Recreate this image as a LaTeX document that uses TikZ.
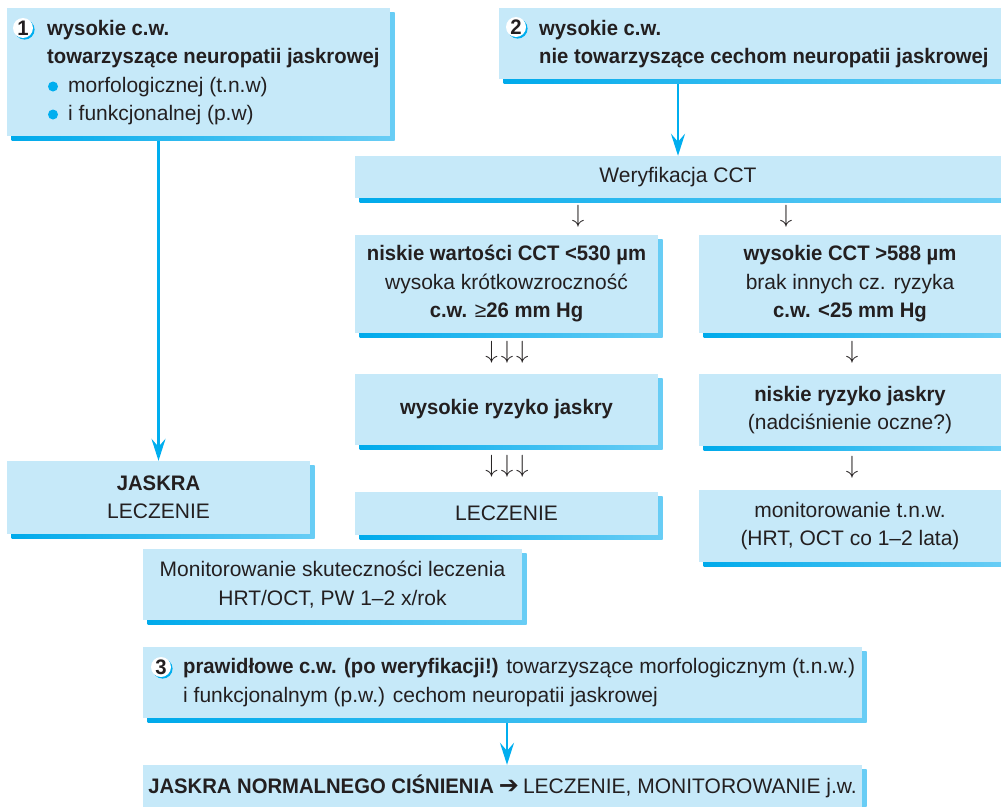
\documentclass[tikz,border=0pt]{standalone}
\usepackage{fontspec}
\setmainfont{Liberation Sans}[BoldFeatures={FakeStretch=0.965}]
\newfontfamily\dejavu{DejaVu Sans}
\usetikzlibrary{arrows.meta,shadows}
\definecolor{boxfill}{RGB}{198,233,249}
\definecolor{shA}{RGB}{0,170,235}
\definecolor{shB}{RGB}{105,205,245}
\definecolor{cyanC}{RGB}{0,174,239}
\definecolor{ink}{RGB}{35,31,32}
\newcommand\dfont{\fontsize{21}{28.5}\selectfont}
\tikzset{
  box/.style={rectangle, fill=boxfill, inner sep=0pt, align=center, text=ink,
    font=\dfont,
    general shadow={shadow xshift=4.5pt, shadow yshift=-4.5pt, left color=shA, right color=shB}},
  txt/.style={inner sep=0pt, anchor=base west, text=ink, font=\dfont},
  numc/.style={circle, fill=white, minimum size=20pt, inner sep=0pt, text=ink,
    font=\fontsize{21}{21}\selectfont\bfseries,
    general shadow={shadow xshift=1.6pt, shadow yshift=-1.6pt, fill=cyanC}},
  conn/.style={draw=cyanC, line width=2.6pt, -{Stealth[length=22pt,width=14pt,inset=8pt]}},
  darr/.style={inner sep=0pt, text=ink, font=\fontsize{27}{27}\selectfont},
}
\begin{document}
\begin{tikzpicture}[x=1pt,y=-1pt]
\clip (0,0) rectangle (1001,806);
\fill[white] (0,0) rectangle (1001,806);

% boxes
\node[box, minimum width=383pt, minimum height=128pt] (b1) at (198.5,72) {};
\node[box, minimum width=502pt, minimum height=71pt] (b2) at (750,43.5) {};
\node[box, minimum width=646pt, minimum height=42pt] (wer) at (678,177) {Weryfikacja CCT};
\node[box, minimum width=303pt, minimum height=98pt] (nisk) at (506.5,284)
  {\textbf{niskie wartości CCT <530 µm}\\wysoka krótkowzroczność\\\textbf{c.w. {\mdseries ≥}26 mm Hg}};
\node[box, minimum width=302pt, minimum height=98pt] (wys) at (850,284)
  {\textbf{wysokie CCT >588 µm}\\brak innych cz. ryzyka\\\textbf{c.w. <25 mm Hg}};
\node[box, minimum width=303pt, minimum height=71pt] (ryz) at (506.5,409.5) {\textbf{wysokie ryzyko jaskry}};
\node[box, minimum width=302pt, minimum height=72pt] (nry) at (850,410)
  {\textbf{niskie ryzyko jaskry}\\(nadciśnienie oczne?)};
\node[box, minimum width=303pt, minimum height=43pt] (lec) at (506.5,513.5) {LECZENIE};
\node[box, minimum width=302pt, minimum height=72pt] (mon) at (850,526)
  {monitorowanie t.n.w.\\(HRT, OCT co 1–2 lata)};
\node[box, minimum width=303pt, minimum height=73pt] (jas) at (158.5,497.5) {\textbf{JASKRA}\\LECZENIE};
\node[box, minimum width=379pt, minimum height=71pt] (msk) at (332.5,584.5)
  {Monitorowanie skuteczności leczenia\\HRT/OCT, PW 1–2 x/rok};
\node[box, minimum width=719pt, minimum height=71pt] (b3) at (502.5,682.5) {};
\node[box, minimum width=719pt, minimum height=43pt] (last) at (502.5,786.5)
  {\textbf{JASKRA NORMALNEGO CIŚNIENIA}\hspace{5pt}{\dejavu\fontsize{24}{24}\selectfont ➔}\hspace{4pt}LECZENIE, MONITOROWANIE j.w.};

% box 1 text
\node[numc] (n1) at (23,28) {1};
\node[txt] (t1a) at (47,35) {\textbf{wysokie c.w.}};
\node[txt] (t1b) at (47,63.5) {\textbf{towarzyszące neuropatii jaskrowej}};
\fill[cyanC] (53,86.5) circle (5pt);
\fill[cyanC] (53,114.5) circle (5pt);
\node[txt] (t1c) at (68,92) {morfologicznej (t.n.w)};
\node[txt] (t1d) at (68,120.5) {i funkcjonalnej (p.w)};

% box 2 text
\node[numc] (n2) at (516,27) {2};
\node[txt] (t2a) at (539,35) {\textbf{wysokie c.w.}};
\node[txt] (t2b) at (539,63.5) {\textbf{nie towarzyszące cechom neuropatii jaskrowej}};

% box 3 text
\node[numc] (n3) at (161,667) {3};
\node[txt] (t3a) at (183,673.5) {\textbf{prawidłowe c.w. (po weryfikacji!)} towarzyszące morfologicznym (t.n.w.)};
\node[txt] (t3b) at (183,702) {i funkcjonalnym (p.w.) cechom neuropatii jaskrowej};

% small arrows
\node[darr] (d1) at (578,216) {$\downarrow$};
\node[darr] (d2) at (786,216) {$\downarrow$};
\node[darr] (d3) at (507,352) {$\downarrow$\hspace{3pt}$\downarrow$\hspace{3pt}$\downarrow$};
\node[darr] (d4) at (507,466) {$\downarrow$\hspace{3pt}$\downarrow$\hspace{3pt}$\downarrow$};
\node[darr] (d5) at (852,352) {$\downarrow$};
\node[darr] (d6) at (852,467) {$\downarrow$};

% connectors
\draw[conn] ([yshift=-5pt]b1.south -| jas.north) -- (jas.north);
\draw[conn] ([yshift=-5pt]b2.south -| wer.north) -- (wer.north);
\draw[conn] ([xshift=4.5pt,yshift=-5pt]b3.south) -- ([xshift=4.5pt]last.north);
\end{tikzpicture}
\end{document}
